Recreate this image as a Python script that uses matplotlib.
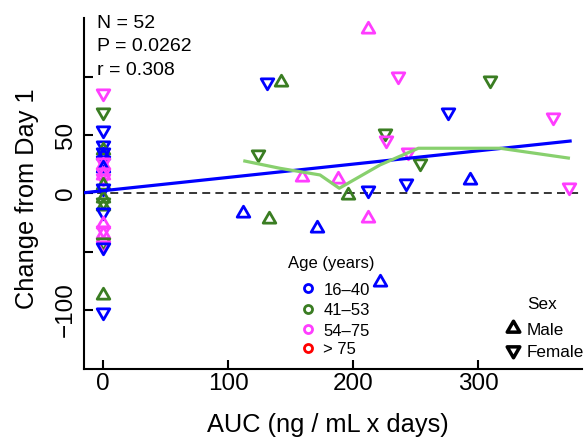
import matplotlib
matplotlib.use('Agg')
import matplotlib.pyplot as plt
from matplotlib.path import Path
from matplotlib.lines import Line2D

plt.rcParams['font.family'] = ['Liberation Sans', 'DejaVu Sans']

# ---------------- data ----------------
auc = [0] * 28 + [130.7, 141.8, 123.5, 212, 236, 309, 276, 360, 225.4, 226.2,
                  244, 253.4, 158.7, 188, 211.4, 242.2, 293.4, 372.8, 195.4,
                  111.5, 132.8, 170.7, 211.5, 221.4]
change = [85.7, 70, 54.3, 41.4, 37.1, 35, 32.9, 28.5, 26.8, 24.3, 21.7, 18.3,
          15.7, 13.1, 7.1, 4.5, -4, -7.5, -11, -16, -26.3, -31.4, -35, -41.7,
          -44.3, -46, -87.2, -101.5,
          95.7, 95.8, 33.7, 140.6, 100.5, 97.1, 70, 65.1, 52, 45.7, 35.7, 26.2,
          14.2, 12.4, 3.2, 8.6, 11.4, 5.1, -1.9, -17.1, -22.3, -30, -21.4, -75.8]
age = ['54–75', '41–53', '16–40', '16–40', '41–53', '16–40', '16–40', '16–40',
       '54–75', '54–75', '16–40', '54–75', '54–75', '54–75', '41–53', '16–40',
       '41–53', '41–53', '41–53', '16–40', '54–75', '54–75', '54–75', '41–53',
       '54–75', '16–40', '41–53', '16–40',
       '16–40', '41–53', '41–53', '54–75', '54–75', '41–53', '16–40', '54–75',
       '41–53', '54–75', '54–75', '41–53', '54–75', '54–75', '16–40', '16–40',
       '16–40', '54–75', '41–53', '16–40', '41–53', '16–40', '54–75', '16–40']
sex = ['F', 'F', 'F', 'F', 'M', 'F', 'M', 'F', 'F', 'M', 'M', 'F', 'M', 'F',
       'M', 'F', 'M', 'F', 'M', 'F', 'M', 'F', 'M', 'F', 'F', 'F', 'M', 'F',
       'F', 'M', 'F', 'M', 'F', 'F', 'F', 'F', 'F', 'F', 'F', 'F', 'M', 'M',
       'F', 'F', 'M', 'F', 'M', 'M', 'M', 'M', 'M', 'M']

age_groups = ['16–40', '41–53', '54–75', '> 75']
age_colors = ['#0000FF', '#3A7D22', '#FF3DFF', '#FF0000']
sex_groups = ['Male', 'Female']

loess_x = [112, 141.4, 173.4, 188.8, 221.4, 252, 317.4, 373.3]
loess_y = [27.9, 21.4, 15.7, 4.3, 24.3, 38.6, 38.6, 30]

fit_intercept = 2.2
fit_slope = 0.114
fit_range = [-15.4, 374.7]

stats_text = ['N = 52', 'P = 0.0262', 'r = 0.308']

# ---------------- figure ----------------
W, H = 587, 438
fig = plt.figure(figsize=(W / 100, H / 100), dpi=100)


def px(x, y):
    return x / W, 1 - y / H


ax = fig.add_axes([84 / W, (H - 369.3) / H, (581.7 - 84) / W, (369.3 - 18.3) / H])
ax.set_xlim(-15.4, 382.7)
ax.set_ylim(-150.9, 150)

tri_up = Path([(0, 1), (-0.866, -0.5), (0.866, -0.5), (0, 1)],
              [Path.MOVETO, Path.LINETO, Path.LINETO, Path.CLOSEPOLY])
tri_dn = Path([(0, -1), (-0.866, 0.5), (0.866, 0.5), (0, -1)],
              [Path.MOVETO, Path.LINETO, Path.LINETO, Path.CLOSEPOLY])
color_of = dict(zip(age_groups, age_colors))

for xv, yv, a, s in zip(auc, change, age, sex):
    ax.plot([xv], [yv], ls='none', marker=tri_up if s == 'M' else tri_dn,
            ms=10.5, mfc='none', mec=color_of[a], mew=2.0, zorder=3)

ax.axhline(0, color='black', lw=1.1, ls=(0, (5.2, 3.4)), zorder=2)
ax.plot(fit_range, [fit_intercept + fit_slope * v for v in fit_range],
        color='#0000FF', lw=2.3, zorder=4, solid_capstyle='butt')
ax.plot(loess_x, loess_y, color='#88D06E', lw=2.3, zorder=5,
        solid_capstyle='butt')

# axes style
for sp in ['top', 'right']:
    ax.spines[sp].set_visible(False)
for sp in ['left', 'bottom']:
    ax.spines[sp].set_linewidth(1.5)
ax.set_xticks([0, 100, 200, 300])
ax.set_xticklabels(['0', '100', '200', '300'])
ax.set_yticks([-100, -50, 0, 50, 100])
ax.set_yticklabels(['\u2212100', '', '0', '50', ''])
ax.tick_params(direction='in', length=6.7, width=1.5, labelsize=17.5)
ax.tick_params(axis='x', pad=3)
ax.tick_params(axis='y', pad=5)
for lab in ax.get_yticklabels():
    lab.set_rotation(90)
    lab.set_va('center')

ax.set_xlabel('AUC (ng / mL x days)', fontsize=18.3)
ax.xaxis.label.set_va('baseline')
ax.xaxis.set_label_coords((328 - 84) / (581.7 - 84), -(431.7 - 369.3) / 351)
ax.set_ylabel('Change from Day 1', fontsize=18.3)
ax.yaxis.set_label_coords((38.7 - 84) / (581.7 - 84), (369.3 - 199) / 351)

# stats annotation
for t, yb in zip(stats_text, [28.3, 51, 75]):
    fig.text(*px(96.7, yb), t, fontsize=14, ha='left', va='baseline')

# Age legend
fig.text(*px(331.7, 268.3), 'Age (years)', fontsize=12, ha='center', va='baseline')
for g, c, yc, yb in zip(age_groups, age_colors, [288.3, 309, 329.3, 348.3],
                        [295, 315, 335.7, 354]):
    fig.add_artist(Line2D([px(307.7, yc)[0]], [px(307.7, yc)[1]],
                          transform=fig.transFigure, marker='o', ms=5.8,
                          mfc='none', mec=c, mew=2.0, ls='none'))
    fig.text(*px(323.3, yb), g, fontsize=12, ha='left', va='baseline')

# Sex legend
fig.text(*px(542.5, 309), 'Sex', fontsize=12.3, ha='center', va='baseline')
for g, m, yc, yb in zip(sex_groups, [tri_up, tri_dn], [328.3, 350], [335, 356.7]):
    fig.add_artist(Line2D([px(513.3, yc)[0]], [px(513.3, yc)[1]],
                          transform=fig.transFigure, marker=m, ms=10.5,
                          mfc='none', mec='black', mew=2.5, ls='none'))
    fig.text(*px(526.7, yb), g, fontsize=12.3, ha='left', va='baseline')

fig.savefig('out.png', dpi=100)
